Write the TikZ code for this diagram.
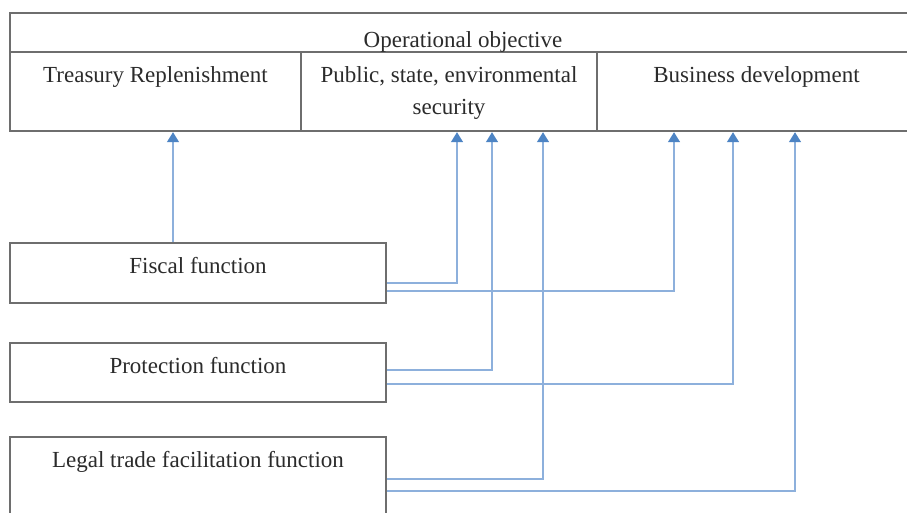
\documentclass[tikz,border=0pt]{standalone}
\usepackage{fontspec}
\setmainfont{Liberation Serif}
\usetikzlibrary{arrows.meta}
\definecolor{boxgray}{HTML}{6E6E6E}
\definecolor{lineblue}{HTML}{8DB0DC}
\definecolor{tipblue}{HTML}{4D84C4}
\definecolor{txt}{HTML}{2B2B2B}
\begin{document}
\begin{tikzpicture}[x=1pt,y=-1pt,
  boxn/.style={draw=boxgray,line width=2.4pt,rectangle,inner sep=0pt},
  lab/.style={text=txt,font=\fontsize{23}{32}\selectfont,anchor=base,inner sep=0pt},
  conn/.style={draw=lineblue,line width=1.4pt,-{Triangle[width=12pt,length=10pt,fill=tipblue,color=tipblue]}}]
\useasboundingbox (0,0) rectangle (907,512);
\clip (0,0) rectangle (907,512);
\fill[white] (0,0) rectangle (907,512);
% objective table
\node[boxn,minimum width=906pt,minimum height=39pt] (obj) at (463,32.5) {};
\node[boxn,minimum width=291pt,minimum height=79pt] (tre) at (155.5,91.5) {};
\node[boxn,minimum width=296pt,minimum height=79pt] (pub) at (449,91.5) {};
\node[boxn,minimum width=319pt,minimum height=79pt] (bus) at (756.5,91.5) {};
\node[lab] (tobj) at (463,47) {Operational objective};
\node[lab] (ttre) at (155.5,82) {Treasury Replenishment};
\node[lab] (tpub1) at (449,82) {Public, state, environmental};
\node[lab] (tpub2) at (449,114) {security};
\node[lab] (tbus) at (756.5,82) {Business development};
% functions
\node[boxn,minimum width=376pt,minimum height=60pt] (fis) at (198,273) {};
\node[lab] (tfis) at (198,273) {Fiscal function};
\node[boxn,minimum width=376pt,minimum height=59pt] (pro) at (198,372.5) {};
\node[lab] (tpro) at (198,373) {Protection function};
\node[boxn,minimum width=376pt,minimum height=100pt] (leg) at (198,487) {};
\node[lab] (tleg) at (198,467) {Legal trade facilitation function};
% connectors
\draw[conn] (fis.north -| 173,0) -- (tre.south -| 173,0);
\draw[conn] (fis.east |- 0,283) -| (pub.south -| 457,0);
\draw[conn] (fis.east |- 0,291) -| (bus.south -| 674,0);
\draw[conn] (pro.east |- 0,370) -| (pub.south -| 492,0);
\draw[conn] (pro.east |- 0,384) -| (bus.south -| 733,0);
\draw[conn] (leg.east |- 0,479) -| (pub.south -| 543,0);
\draw[conn] (leg.east |- 0,491) -| (bus.south -| 795,0);
\end{tikzpicture}
\end{document}
